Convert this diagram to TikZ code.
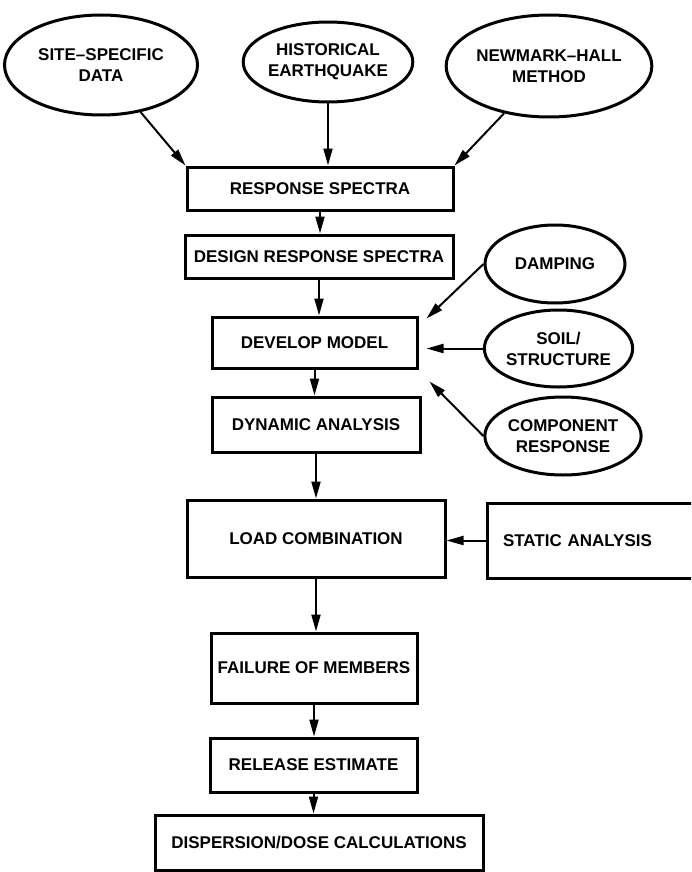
\documentclass[tikz,border=0pt]{standalone}
\usepackage{fontspec}
\setmainfont{Liberation Sans}
\usetikzlibrary{arrows.meta,shapes.geometric}

\begin{document}
\begin{tikzpicture}
[> = {Triangle[length=17pt,width=9pt]}, % arrow head style
x = 1pt, y = -1pt, % one unit per pixel, y running down
every node/.style={draw, line width=3pt, inner sep=0pt, align=center,
  font=\bfseries\fontsize{17}{21}\selectfont},
box/.style={rectangle},
oval/.style={ellipse},
link/.style={->, line width=2pt}]
\useasboundingbox (0,0) rectangle (691,872);
\clip (0,0) rectangle (691,872);
% inputs on top
\node[oval, minimum width=193pt, minimum height=100pt] (site) at (101,65) {SITE--SPECIFIC\\DATA};
\node[oval, minimum width=150pt, minimum height=80pt] (hist) at (328,62) {HISTORICAL\\EARTHQUAKE};
\node[oval, minimum width=185pt, minimum height=102pt] (nmh) at (549,66) {NEWMARK--HALL\\METHOD};
% main chain
\node[box, minimum width=266pt, minimum height=43pt] (rs) at (320,188.5) {RESPONSE SPECTRA};
\node[box, minimum width=268pt, minimum height=43pt] (drs) at (319,256.5) {DESIGN RESPONSE SPECTRA};
\node[box, minimum width=205pt, minimum height=51pt] (dm) at (314.5,342.5) {DEVELOP MODEL};
\node[box, minimum width=208pt, minimum height=55pt] (da) at (316,424.5) {DYNAMIC ANALYSIS};
\node[box, minimum width=258pt, minimum height=77pt] (lc) at (316,538.5) {LOAD COMBINATION};
\node[box, minimum width=206pt, minimum height=70pt] (fom) at (314,668) {FAILURE OF MEMBERS};
\node[box, minimum width=207pt, minimum height=54pt] (re) at (313.5,765) {RELEASE ESTIMATE};
\node[box, minimum width=328pt, minimum height=55pt] (dd) at (319,842.5) {DISPERSION/DOSE CALCULATIONS};
% side inputs
\node[oval, minimum width=140pt, minimum height=78pt] (damp) at (555,264) {DAMPING};
\node[oval, minimum width=137pt, minimum height=77pt] (soil) at (558.5,348.5) {SOIL/\\STRUCTURE};
\node[oval, minimum width=140pt, minimum height=78pt] (comp) at (563,436) {COMPONENT\\RESPONSE};
\node[box, minimum width=243pt, minimum height=75pt, text width=211pt, inner xsep=16pt, align=left] (sa) at (608.5,540.5) {STATIC ANALYSIS};
% connectors
\draw[link] (site) -- (rs.north west);
\draw[link] (hist.south) -- (hist.south |- rs.north);
\draw[link] (nmh) -- (rs.north east);
\draw[link] (rs.south) -- (rs.south |- drs.north);
\draw[link] (drs.south) -- (drs.south |- dm.north);
\draw[link] (damp.west) -- ([xshift=8pt,yshift=-3pt]dm.north east);
\draw[link] (soil.west) -- ([xshift=8pt]dm.east |- soil.west);
\draw[link] (comp.west) -- ([xshift=11pt,yshift=-12pt]dm.south east);
\draw[link] (dm.south) -- (dm.south |- da.north);
\draw[link] (da.south) -- (da.south |- lc.north);
\draw[link] (sa.west) -- (lc.east |- sa.west);
\draw[link] (lc.south) -- (lc.south |- fom.north);
\draw[link] (fom.south) -- (fom.south |- re.north);
\draw[link] (re.south) -- (re.south |- dd.north);
\end{tikzpicture}
\end{document}
